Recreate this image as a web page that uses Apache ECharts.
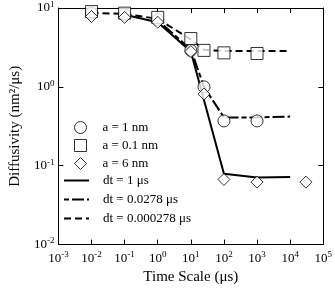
<!DOCTYPE html>
<html>
<head>
<meta charset="utf-8">
<script src="https://cdn.jsdelivr.net/npm/echarts@6/dist/echarts.min.js"></script>
<style>
  html, body { margin: 0; padding: 0; background: #fff; }
  #chart { width: 335px; height: 290px; }
</style>
</head>
<body>
<div id="chart"></div>
<script>
// measured points, [time scale (us), diffusivity (nm^2/us)]
var circle1nm = [[0.01, 8.6], [0.1, 8.2], [1, 7.1], [10, 2.9], [25, 1.0], [100, 0.37], [1000, 0.37]];
var square01nm = [[0.01, 9.0], [0.1, 8.6], [1, 7.6], [10, 4.1], [25, 2.9], [100, 2.7], [1000, 2.65]];
var diamond6nm = [[0.01, 7.8], [0.1, 7.6], [1, 6.6], [10, 2.8], [25, 0.81], [100, 0.067], [1000, 0.062], [30000, 0.062]];
var lineDt1 = [[0.1, 8.2], [1, 6.6], [10, 2.8], [100, 0.079], [1000, 0.071], [10000, 0.072]];
var lineDt0278 = [[1, 7.0], [10, 3.0], [25, 1.0], [100, 0.41], [1000, 0.41], [10000, 0.42]];
var lineDt000278 = [[0.01, 8.7], [0.1, 8.4], [1, 7.3], [10, 4.0], [25, 2.95], [100, 2.85], [1000, 2.85], [10000, 2.85]];

var markerNames = ['a = 1 nm', 'a = 0.1 nm', 'a = 6 nm'];
var lineNames = ['dt = 1 μs', 'dt = 0.0278 μs', 'dt = 0.000278 μs'];

var font = 'Liberation Serif';

function powLabel(v) {
  var e = Math.round(Math.log10(v));
  return '{b|10}{s|' + e + '}';
}
var powRich = {
  b: { fontFamily: font, fontSize: 13, color: '#000' },
  s: { fontFamily: font, fontSize: 9, color: '#000', verticalAlign: 'bottom', padding: [0, 0, 7, 0] }
};

var chart = echarts.init(document.getElementById('chart'));

function scatter(name, symbol, data) {
  return {
    name: name, type: 'scatter', data: data,
    xAxisIndex: 0, yAxisIndex: 0,
    symbol: symbol, symbolSize: 12, z: 5,
    itemStyle: { color: '#fff', borderColor: '#000', borderWidth: 1 }
  };
}
function line(name, dash, data) {
  return {
    name: name, type: 'line', data: data,
    xAxisIndex: 0, yAxisIndex: 0,
    symbol: 'none', z: 3,
    lineStyle: { color: '#000', width: 2, type: dash },
    itemStyle: { color: '#000' }
  };
}

var legendText = { fontFamily: font, fontSize: 13, color: '#000' };
var hollow = { color: '#fff', borderColor: '#000', borderWidth: 1 };

var option = {
  animation: false,
  backgroundColor: '#fff',
  grid: { left: 47, right: 8, top: 8, bottom: 41 },
  legend: [{
    orient: 'vertical', left: 69, top: 116,
    itemWidth: 12, itemHeight: 12, itemGap: 5,
    textStyle: Object.assign({ padding: [0, 0, 0, 11] }, legendText),
    data: [
      { name: markerNames[0], icon: 'circle', itemStyle: hollow },
      { name: markerNames[1], icon: 'rect', itemStyle: hollow },
      { name: markerNames[2], icon: 'diamond', itemStyle: hollow }
    ]
  }, {
    orient: 'vertical', left: 58, top: 169,
    itemWidth: 25, itemHeight: 12, itemGap: 6,
    textStyle: Object.assign({ padding: [0, 0, 0, 9] }, legendText),
    data: lineNames.map(function (n) {
      return { name: n, itemStyle: { opacity: 0 } };
    })
  }],
  xAxis: [{
    type: 'log', logBase: 10, min: 0.001, max: 100000,
    name: 'Time Scale (μs)', nameLocation: 'middle', nameGap: 19,
    nameTextStyle: { fontFamily: font, fontSize: 15, color: '#000' },
    axisLine: { lineStyle: { color: '#000', width: 1 } },
    axisTick: { inside: true, length: 5, lineStyle: { color: '#000' } },
    axisLabel: { formatter: powLabel, rich: powRich, margin: 6 },
    splitLine: { show: false }
  }, {
    type: 'log', logBase: 10, min: 0.001, max: 100000, position: 'top',
    axisLine: { lineStyle: { color: '#000', width: 1 } },
    axisTick: { inside: true, length: 5, lineStyle: { color: '#000' } },
    axisLabel: { show: false }, splitLine: { show: false }
  }],
  yAxis: [{
    type: 'log', logBase: 10, min: 0.01, max: 10,
    name: 'Diffusivity (nm²/μs)', nameLocation: 'middle', nameGap: 30,
    nameTextStyle: { fontFamily: font, fontSize: 15, color: '#000' },
    axisLine: { show: true, lineStyle: { color: '#000', width: 1 } },
    axisTick: { show: true, inside: true, length: 5, lineStyle: { color: '#000' } },
    axisLabel: { formatter: powLabel, rich: powRich, margin: 4 },
    splitLine: { show: false }
  }, {
    type: 'log', logBase: 10, min: 0.01, max: 10, position: 'right',
    axisLine: { show: true, lineStyle: { color: '#000', width: 1 } },
    axisTick: { show: true, inside: true, length: 5, lineStyle: { color: '#000' } },
    axisLabel: { show: false }, splitLine: { show: false }
  }],
  series: [
    scatter(markerNames[0], 'circle', circle1nm),
    scatter(markerNames[1], 'rect', square01nm),
    scatter(markerNames[2], 'diamond', diamond6nm),
    line(lineNames[0], 'solid', lineDt1),
    line(lineNames[1], [5, 3, 12, 3], lineDt0278),
    line(lineNames[2], [7, 4], lineDt000278)
  ]
};
chart.setOption(option);
</script>
</body>
</html>
